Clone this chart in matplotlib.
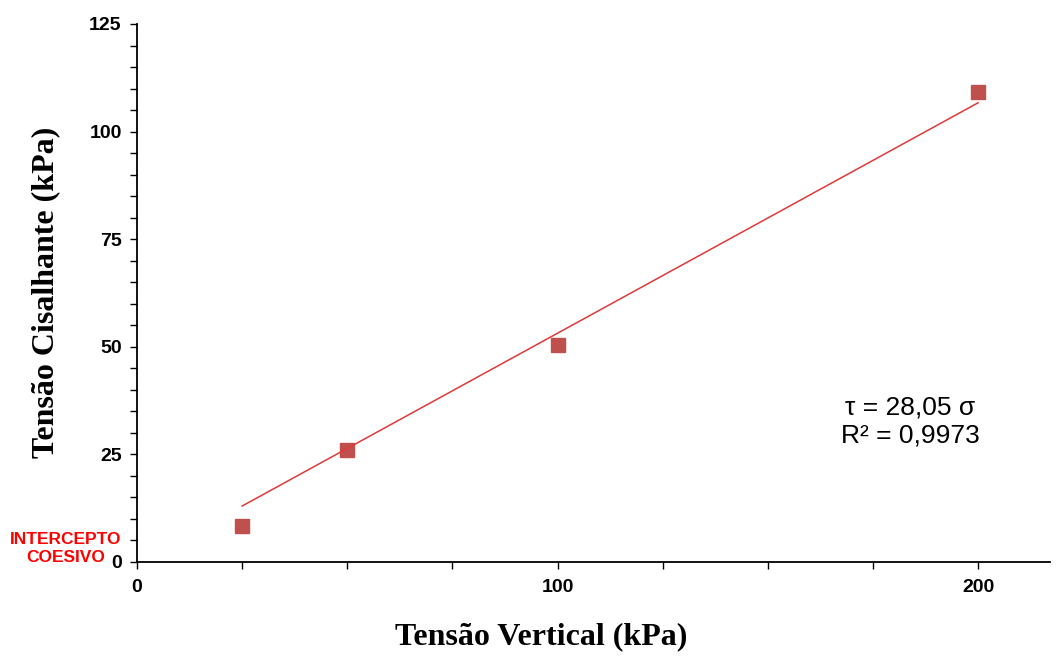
import matplotlib.pyplot as plt
from matplotlib.ticker import MultipleLocator

# ensaio de cisalhamento direto
sigma = [25, 50, 100, 200]
tau = [8.4, 26.0, 50.5, 109.1]

# reta de tendência (extremos)
trend_x = [25, 200]
trend_y = [13.0, 106.7]

fig = plt.figure(figsize=(10.56, 6.59), dpi=100)
ax = fig.add_axes([0.1297, 0.1472, 0.8643, 0.8164])

ax.plot(sigma, tau, 'x', color='#9BBB59', markersize=7, mew=1.5, zorder=2)
ax.plot(sigma, tau, 's', color='#C0504D', markersize=10, zorder=3)
ax.plot(trend_x, trend_y, '-', color='#E03838', lw=1.1, zorder=4)

ax.set_xlim(0, 217)
ax.set_ylim(0, 125)
ax.xaxis.set_major_locator(MultipleLocator(100))
ax.xaxis.set_minor_locator(MultipleLocator(25))
ax.yaxis.set_major_locator(MultipleLocator(25))
ax.yaxis.set_minor_locator(MultipleLocator(5))
ax.tick_params(which='both', direction='out', length=5, width=1, color='black')
ax.tick_params(axis='x', pad=7)
ax.tick_params(axis='y', pad=6)
for lab in ax.get_xticklabels() + ax.get_yticklabels():
    lab.set_fontfamily('Liberation Sans')
    lab.set_fontweight('bold')
    lab.set_fontsize(14)

for s in ['top', 'right']:
    ax.spines[s].set_visible(False)
for s in ['left', 'bottom']:
    ax.spines[s].set_linewidth(1.3)

ax.set_xlabel('Tensão Vertical (kPa)', fontfamily='Liberation Serif',
              fontweight='bold', fontsize=23)
ax.set_ylabel('Tensão Cisalhante (kPa)', fontfamily='Liberation Serif',
              fontweight='bold', fontsize=23)
ax.xaxis.set_label_coords(0.4425, -0.112)
ax.yaxis.set_label_coords(-0.084, 0.502)

# equação da reta
fig.text(0.862, 1 - 408 / 659, 'τ = 28,05 σ', ha='center', va='center',
         fontfamily='Liberation Sans', fontsize=19)
fig.text(0.862, 1 - 435 / 659, 'R² = 0,9973', ha='center', va='center',
         fontfamily='Liberation Sans', fontsize=19)

fig.text(0.0625, 1 - 539 / 659, 'INTERCEPTO', ha='center', va='center',
         color='red', fontfamily='Liberation Sans', fontweight='bold',
         fontsize=12.5)
fig.text(0.0625, 1 - 558 / 659, 'COESIVO', ha='center', va='center',
         color='red', fontfamily='Liberation Sans', fontweight='bold',
         fontsize=12.5)

fig.savefig('out.png', dpi=100)
